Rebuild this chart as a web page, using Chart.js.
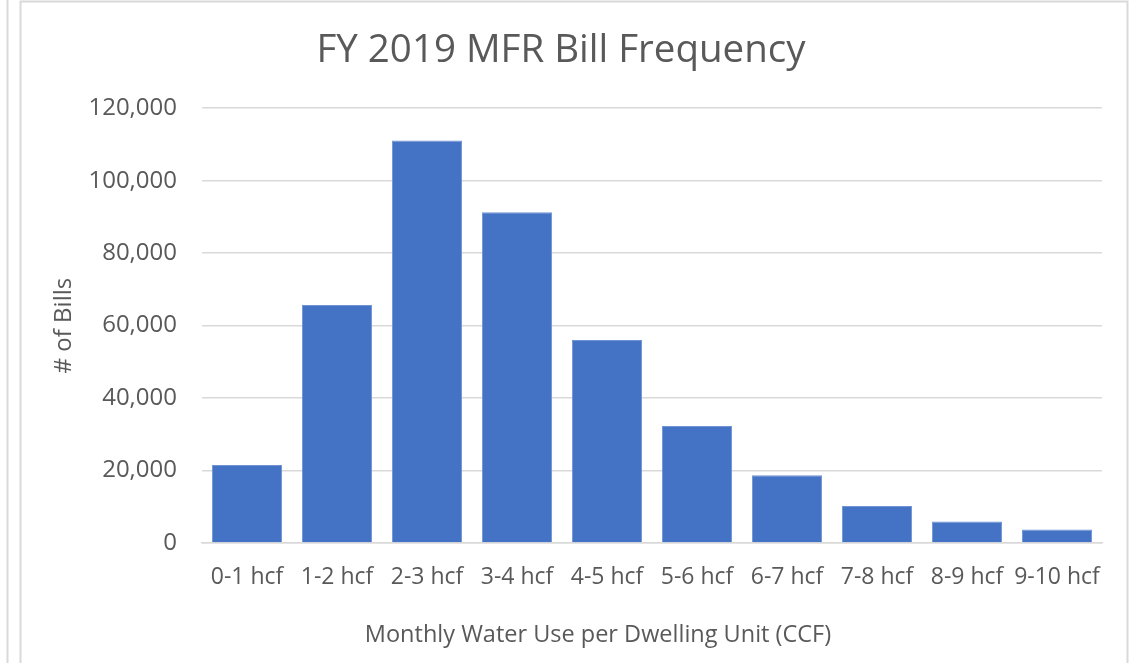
<!DOCTYPE html>
<html>
<head>
<meta charset="utf-8">
<script src="https://cdn.jsdelivr.net/npm/chart.js@4"></script>
<style>
  html, body { margin: 0; padding: 0; background: #ffffff; }
  #wrap { position: relative; width: 1138px; height: 663px; }
  canvas { display: block; }
</style>
</head>
<body>
<div id="wrap"><canvas id="c" width="1138" height="663"></canvas></div>
<script>
const categories = ['0-1 hcf', '1-2 hcf', '2-3 hcf', '3-4 hcf', '4-5 hcf', '5-6 hcf', '6-7 hcf', '7-8 hcf', '8-9 hcf', '9-10 hcf'];
const billCounts = [21500, 65700, 111100, 91300, 56000, 32300, 18700, 10200, 5900, 3700];
const chartTitle = 'FY 2019 MFR Bill Frequency';
const xAxisTitle = 'Monthly Water Use per Dwelling Unit (CCF)';
const yAxisTitle = '# of Bills';

const FONT = '"Open Sans", "Liberation Sans", sans-serif';
const TEXT = '#595959';
const GRID = '#d9d9d9';

const framePlugin = {
  id: 'frame',
  beforeDraw(chart) {
    const ctx = chart.ctx;
    ctx.save();
    ctx.fillStyle = '#ffffff';
    ctx.fillRect(0, 0, chart.width, chart.height);
    ctx.strokeStyle = '#d9d9d9';
    ctx.lineWidth = 2;
    ctx.beginPath();
    ctx.moveTo(7.5, 0); ctx.lineTo(7.5, chart.height);
    ctx.moveTo(20.5, chart.height); ctx.lineTo(20.5, 1.5); ctx.lineTo(1127.5, 1.5); ctx.lineTo(1127.5, chart.height);
    ctx.stroke();
    ctx.restore();
  },
  afterDraw(chart) {
    // x-axis title, centred on the whole chart frame as in the original
    const ctx = chart.ctx;
    ctx.save();
    ctx.fillStyle = TEXT;
    ctx.font = '23.5px ' + FONT;
    ctx.textAlign = 'center';
    ctx.textBaseline = 'middle';
    ctx.fillText(xAxisTitle, 598, 635);
    ctx.restore();
  }
};

new Chart(document.getElementById('c'), {
  type: 'bar',
  data: {
    labels: categories,
    datasets: [{
      data: billCounts,
      backgroundColor: '#4472C4',
      borderColor: '#6f93d3',
      borderWidth: 1,
      barPercentage: 0.78,
      categoryPercentage: 1.0
    }]
  },
  plugins: [framePlugin],
  options: {
    responsive: false,
    animation: false,
    layout: { padding: { left: 20, right: 36, top: 28, bottom: 0 } },
    plugins: {
      legend: { display: false },
      tooltip: { enabled: false },
      title: {
        display: true,
        text: chartTitle,
        color: TEXT,
        font: { family: FONT, size: 38.5, weight: 'normal' },
        padding: { top: 0, bottom: 34 }
      }
    },
    scales: {
      x: {
        grid: { display: false, drawTicks: false },
        border: { display: true, color: GRID, width: 1.5 },
        ticks: {
          color: TEXT,
          font: { family: FONT, size: 23 },
          padding: 21,
          autoSkip: false,
          maxRotation: 0,
          minRotation: 0
        },
        title: { display: false },
        afterFit(scale) { scale.height = 120; }
      },
      y: {
        min: 0,
        max: 120000,
        grid: { color: GRID, lineWidth: 1.5, drawTicks: false },
        border: { display: false },
        ticks: {
          stepSize: 20000,
          color: TEXT,
          font: { family: FONT, size: 24 },
          padding: 25
        },
        title: {
          display: true,
          text: yAxisTitle,
          color: TEXT,
          font: { family: FONT, size: 24 },
          padding: { top: 30, bottom: 0 }
        },
        afterFit(scale) { scale.width = 182; }
      }
    }
  }
});
</script>
</body>
</html>
